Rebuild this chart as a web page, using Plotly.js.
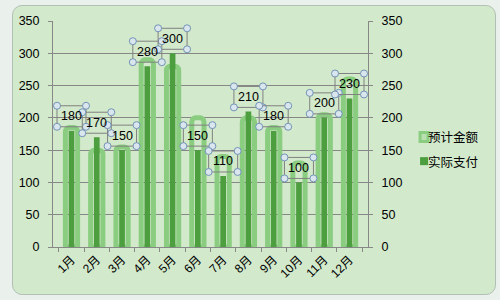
<!DOCTYPE html>
<html>
<head>
<meta charset="utf-8">
<script src="https://cdn.plot.ly/plotly-3.0.1.min.js"></script>
<style>
  html, body { margin:0; padding:0; width:500px; height:300px; overflow:hidden; background:#eaf1ec; }
  #frame { position:absolute; left:12px; top:5px; width:482px; height:288px; border:1px solid #b3c0b5; border-radius:10px; background:#d2e9cb; }
  #chart { position:absolute; left:0; top:0; width:500px; height:300px; }
</style>
</head>
<body>
<div id="frame"></div>
<div id="chart"></div>
<script>
const months = ['1月','2月','3月','4月','5月','6月','7月','8月','9月','10月','11月','12月'];
const planned = [185, 150, 155, 290, 280, 200, 140, 200, 185, 130, 205, 260];   // 预计金额
const actual  = [180, 170, 150, 280, 300, 150, 110, 210, 180, 100, 200, 230];   // 实际支付
const yTicks = [0, 50, 100, 150, 200, 250, 300, 350];
const seriesNames = ['预计金额', '实际支付'];

const lightGreen = '#8acd80';
const darkGreen = '#4c9e3f';
const gridGray = '#878787';
const font = 'Liberation Sans, Noto Sans CJK SC, sans-serif';
const cjkFont = 'Noto Sans CJK SC, sans-serif';

const traces = [
  {
    type:'bar', name: seriesNames[0], x: months, y: planned, width: 0.484,
    marker:{ color:'rgba(0,0,0,0)', line:{ color: lightGreen, width:5 }, cornerradius: 4 },
    hoverinfo:'none', showlegend:false
  },
  {
    type:'bar', name: seriesNames[1], x: months, y: actual, width: 0.225, yaxis:'y2',
    marker:{ color: darkGreen }, hoverinfo:'none', showlegend:false
  }
];

const annotations = [];
const shapes = [];
months.forEach((m, i) => {
  const v = actual[i];
  annotations.push({
    x: m, y: v, xref:'x', yref:'y2', text: String(v), showarrow:false,
    yanchor:'middle', yshift: 14.5, font:{ family: font, size: 12.5, color:'#000' }
  });
  shapes.push({
    type:'rect', xref:'x', yref:'y2', xsizemode:'pixel', ysizemode:'pixel',
    xanchor: m, yanchor: v, x0:-14.5, x1:14.5, y0:4, y1:25,
    line:{ color:'#808080', width:1 }, fillcolor:'rgba(0,0,0,0)'
  });
  [[-14.5,4],[14.5,4],[-14.5,25],[14.5,25]].forEach(([dx, dy]) => {
    shapes.push({
      type:'circle', xref:'x', yref:'y2', xsizemode:'pixel', ysizemode:'pixel',
      xanchor: m, yanchor: v, x0: dx-3.5, x1: dx+3.5, y0: dy-3.5, y1: dy+3.5,
      line:{ color:'#7393b5', width:1 }, fillcolor:'#d9e6ee'
    });
  });
});

// legend (drawn as annotations + markers to the right of the plot)
const legendY = [0.487, 0.38];
annotations.push(
  { xref:'paper', yref:'paper', x:1.184, y:legendY[0], xanchor:'left', yanchor:'middle', showarrow:false,
    text: seriesNames[0], font:{ family: cjkFont, size: 12.5, color:'#000' } },
  { xref:'paper', yref:'paper', x:1.184, y:legendY[1], xanchor:'left', yanchor:'middle', showarrow:false,
    text: seriesNames[1], font:{ family: cjkFont, size: 12.5, color:'#000' } }
);
shapes.push(
  { type:'rect', xref:'paper', yref:'paper', xsizemode:'pixel', ysizemode:'pixel', xanchor:1.178, yanchor:legendY[0],
    x0:-4, x1:4, y0:-4.5, y1:4.5, line:{ color: lightGreen, width:3 }, fillcolor:'#b9e0b1' },
  { type:'rect', xref:'paper', yref:'paper', xsizemode:'pixel', ysizemode:'pixel', xanchor:1.178, yanchor:legendY[1],
    x0:-4, x1:4, y0:-4, y1:4, line:{ width:0 }, fillcolor: darkGreen }
);

const layout = {
  width: 500, height: 300,
  margin:{ l:53, r:132, t:21, b:53 },
  paper_bgcolor:'rgba(0,0,0,0)', plot_bgcolor:'rgba(0,0,0,0)',
  barmode:'overlay',
  showlegend:false,
  font:{ family: font, size: 12, color:'#000' },
  xaxis:{
    type:'category', showline:true, linecolor: gridGray, linewidth:1,
    ticks:'outside', tickson:'boundaries', ticklen:4, tickcolor: gridGray,
    tickangle:-45, tickfont:{ family: font, size: 12, color:'#000' },
    showgrid:false, zeroline:false, fixedrange:true
  },
  yaxis:{
    range:[0,350], tickvals: yTicks, showline:true, linecolor: gridGray, linewidth:1,
    ticks:'outside', ticklen:4, tickcolor: gridGray,
    showgrid:true, gridcolor: gridGray, gridwidth:1, zeroline:false,
    tickfont:{ family: font, size: 12.5, color:'#000' }, ticklabelstandoff: 6
  },
  yaxis2:{
    range:[0,350], tickvals: yTicks, overlaying:'y', side:'right',
    showline:true, linecolor: gridGray, linewidth:1,
    ticks:'outside', ticklen:4, tickcolor: gridGray,
    showgrid:false, zeroline:false,
    tickfont:{ family: font, size: 12.5, color:'#000' }, ticklabelstandoff: 6
  },
  annotations, shapes
};

Plotly.newPlot('chart', traces, layout, { displayModeBar:false, staticPlot:true });
</script>
</body>
</html>
